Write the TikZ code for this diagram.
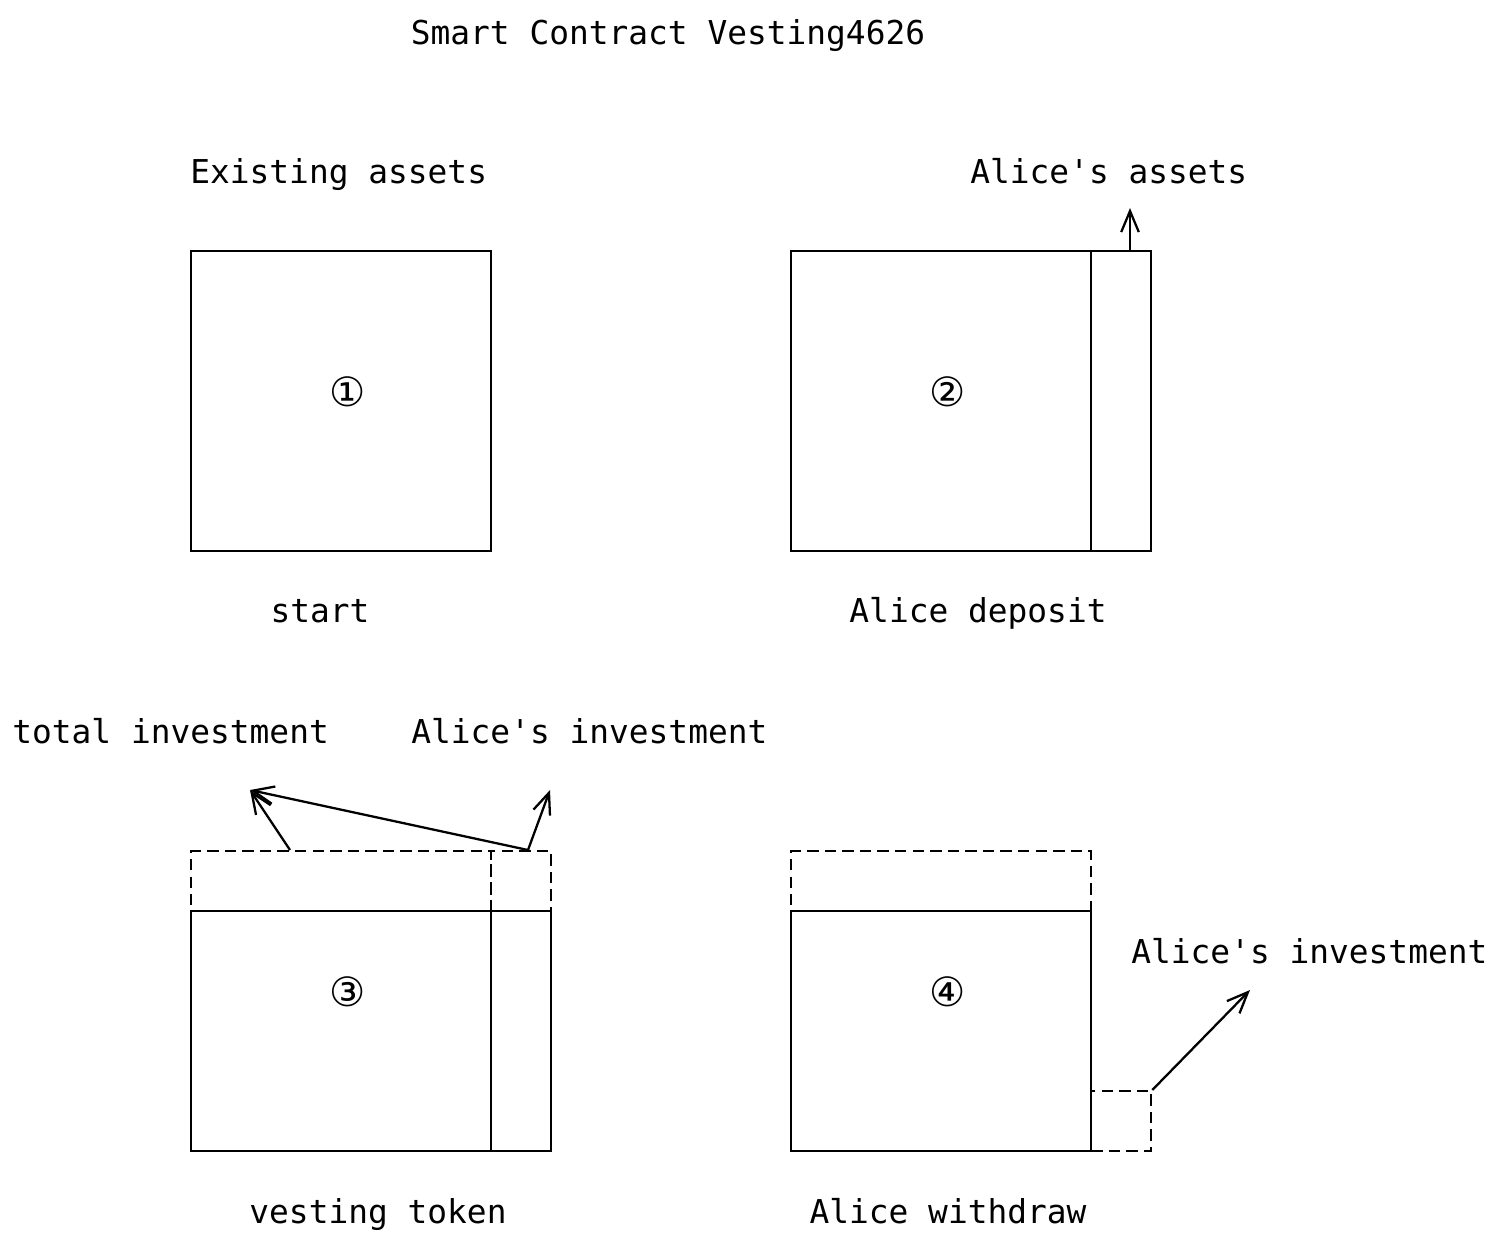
\documentclass[tikz,border=0pt]{standalone}
\usepackage{fontspec}
\setmonofont{DejaVu Sans Mono}
\newfontfamily\numfont{DejaVu Sans}
\usetikzlibrary{arrows.meta}
\tikzset{>={Straight Barb[length=12pt,width=10pt]}}
\tikzset{box/.style = {draw,line width=1.3pt,inner sep=0pt,anchor=north west}}
\tikzset{dbox/.style = {box,dash pattern=on 6.5pt off 3.5pt}}
\tikzset{lbl/.style = {inner sep=0pt,anchor=base,font=\ttfamily\fontsize{18.7}{22}\selectfont}}
\tikzset{num/.style = {inner sep=0pt,font=\numfont\fontsize{23}{26}\selectfont}}
\tikzset{edge/.style = {->,line width=1.3pt}}
\begin{document}
\begin{tikzpicture}[x=0.02cm,y=-0.02cm]
                \useasboundingbox (0,0) rectangle (1496,1245);
                \node[lbl] (title) at (668,44) {Smart Contract Vesting4626};
                % start
                \node[lbl,anchor=base west] (exist) at (190,183) {Existing assets};
                \node[box,minimum width=6cm,minimum height=6cm] (s1) at (190,250) {};
                \node[num] (n1) at (348,392) {①};
                \node[lbl] (start) at (320,622) {start};
                % Alice deposit
                \node[lbl,anchor=base west] (aassets) at (970,183) {Alice's assets};
                \node[box,minimum width=6cm,minimum height=6cm] (s2) at (790,250) {};
                \node[box,minimum width=1.2cm,minimum height=6cm] (s2a) at (1090,250) {};
                \node[num] (n2) at (948,392) {②};
                \node[lbl] (deposit) at (978,622) {Alice deposit};
                \coordinate (p2) at (1130,250);
                \coordinate (q2) at (1130,208);
                \draw[edge] (p2) -- (q2);
                % vesting token
                \node[lbl,anchor=base west] (total) at (12,743) {total investment};
                \node[lbl,anchor=base west] (ainv3) at (411,743) {Alice's investment};
                \node[dbox,minimum width=6cm,minimum height=1.2cm] (s3t) at (190,850) {};
                \node[dbox,minimum width=1.2cm,minimum height=1.2cm] (s3ta) at (490,850) {};
                \node[box,minimum width=6cm,minimum height=4.8cm] (s3) at (190,910) {};
                \node[box,minimum width=1.2cm,minimum height=4.8cm] (s3a) at (490,910) {};
                \node[num] (n3) at (348,992) {③};
                \node[lbl] (vest) at (378,1223) {vesting token};
                \coordinate (p3) at (290,850);
                \coordinate (p3a) at (528,850);
                \coordinate (q3) at (250,790);
                \coordinate (q3a) at (550,790);
                \draw[edge] (p3) -- (q3);
                \draw[edge] (p3a) -- (q3);
                \draw[edge] (p3a) -- (q3a);
                % Alice withdraw
                \node[lbl,anchor=base west] (ainv4) at (1131,963) {Alice's investment};
                \node[dbox,minimum width=6cm,minimum height=1.2cm] (s4t) at (790,850) {};
                \node[box,minimum width=6cm,minimum height=4.8cm] (s4) at (790,910) {};
                \node[dbox,minimum width=1.2cm,minimum height=1.2cm] (s4a) at (1090,1090) {};
                \node[num] (n4) at (948,992) {④};
                \node[lbl] (withdraw) at (948,1223) {Alice withdraw};
                \coordinate (q4) at (1250,990);
                \draw[edge] (s4a.north east) -- (q4);
\end{tikzpicture}
\end{document}
